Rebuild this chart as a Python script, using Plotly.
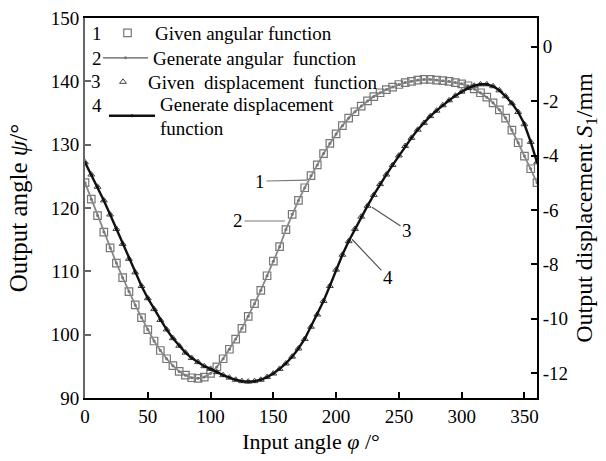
import plotly.graph_objects as go

# ---- data ----
phi = list(range(0, 361, 5))

psi_given = [124.0, 121.4, 118.8, 116.2, 113.7, 111.3, 109.0, 106.8, 104.7, 102.7,
             100.8, 99.0, 97.5, 96.2, 95.1, 94.2, 93.6, 93.2, 93.1, 93.3,
             93.9, 94.9, 96.2, 97.7, 99.3, 101.0, 102.9, 104.9, 107.0, 109.3,
             111.6, 113.9, 116.6, 119.0, 121.2, 123.2, 125.1, 126.8, 128.6, 130.2,
             131.7, 133.0, 134.2, 135.2, 136.1, 136.9, 137.6, 138.2, 138.7, 139.1,
             139.5, 139.8, 140.0, 140.2, 140.3, 140.3, 140.2, 140.1, 140.0, 139.8,
             139.6, 139.3, 138.8, 138.2, 137.5, 136.6, 135.5, 134.2, 132.3, 130.3,
             128.2, 126.2, 124.0]

psi_generated = psi_given

s_given = [-4.25, -4.7, -5.15, -5.65, -6.17, -6.7, -7.25, -7.8, -8.3, -8.8,
           -9.25, -9.65, -10.05, -10.4, -10.72, -11.0, -11.25, -11.45, -11.6, -11.75,
           -11.85, -11.97, -12.08, -12.17, -12.25, -12.3, -12.32, -12.3, -12.25, -12.15,
           -12.02, -11.85, -11.65, -11.4, -11.1, -10.75, -10.3, -9.85, -9.35, -8.8,
           -8.2, -7.65, -7.15, -6.7, -6.25, -5.85, -5.45, -5.05, -4.7, -4.35,
           -4.0, -3.65, -3.35, -3.05, -2.8, -2.55, -2.35, -2.15, -1.97, -1.8,
           -1.65, -1.52, -1.43, -1.38, -1.38, -1.45, -1.6, -1.82, -2.08, -2.4,
           -2.85, -3.5, -4.25]

s_generated = s_given

x_ticks = [0, 50, 100, 150, 200, 250, 300, 350]
y_ticks = [90, 100, 110, 120, 130, 140, 150]
y2_ticks = [0, -2, -4, -6, -8, -10, -12]
y2_ticktext = ["0", "-2", "-4", "-6", "-8", "-10", "-12"]

series_names = ["Given angular function",
                "Generate angular  function",
                "Given  displacement  function",
                "Generate displacement<br>function"]
series_numbers = ["1", "2", "3", "4"]

FONT = "Liberation Serif"

L, R, T, B = 85, 69, 18, 63
W, H = 606, 461
pw, ph = W - L - R, H - T - B

def px(xp):
    return (xp - L) / pw

def py(yp):
    return (H - B - yp) / ph

fig = go.Figure()
fig.add_trace(go.Scatter(x=phi, y=psi_given, mode="markers", name=series_names[0], legend="legend",
                         marker=dict(symbol="square-open", size=7.5, color="#777777",
                                     line=dict(width=1.2))))
fig.add_trace(go.Scatter(x=phi, y=psi_generated, mode="lines+markers", name=series_names[1], legend="legend2",
                         line=dict(color="#888888", width=1.8),
                         marker=dict(symbol="circle", size=3, color="#777777")))
fig.add_trace(go.Scatter(x=phi, y=s_given, mode="markers", name=series_names[2], yaxis="y2", legend="legend3",
                         marker=dict(symbol="triangle-up-open", size=6, color="#444444",
                                     line=dict(width=1))))
fig.add_trace(go.Scatter(x=phi, y=s_generated, mode="lines+markers", name=series_names[3], yaxis="y2", legend="legend4",
                         line=dict(color="#111111", width=2.4),
                         marker=dict(symbol="circle", size=3, color="#111111")))

annotations = []
# legend numbers
for num, (xx, yy) in zip(series_numbers, [(97, 33), (97, 58), (96, 82), (97, 105)]):
    annotations.append(dict(x=px(xx), y=py(yy), xref="paper", yref="paper", text=num,
                            xanchor="center", yanchor="middle",
                            showarrow=False, font=dict(family=FONT, size=19, color="black")))

# curve labels with leader lines
annotations += [
    dict(x=176.8, y=124.4, xref="x", yref="y", text="1", showarrow=True, arrowhead=0,
         arrowwidth=1.2, arrowcolor="#777777", ax=-47, ay=1, font=dict(family=FONT, size=19)),
    dict(x=159.3, y=117.95, xref="x", yref="y", text="2", showarrow=True, arrowhead=0,
         arrowwidth=1.2, arrowcolor="#777777", ax=-47, ay=0, font=dict(family=FONT, size=19)),
    dict(x=228.6, y=-5.9, xref="x", yref="y2", text="3", showarrow=True, arrowhead=0,
         arrowwidth=1.2, arrowcolor="#555555", ax=35, ay=23, font=dict(family=FONT, size=19)),
    dict(x=212.6, y=-7.08, xref="x", yref="y2", text="4", showarrow=True, arrowhead=0,
         arrowwidth=1.2, arrowcolor="#555555", ax=36, ay=38, font=dict(family=FONT, size=19)),
]

def legend_box(xleft, ycenter, iw):
    return dict(x=px(xleft), y=py(ycenter), xanchor="left", yanchor="middle",
                bgcolor="rgba(0,0,0,0)", borderwidth=0,
                font=dict(family=FONT, size=19, color="black"), itemwidth=iw)

fig.update_layout(
    width=W, height=H,
    margin=dict(l=L, r=R, t=T, b=B, autoexpand=False),
    paper_bgcolor="white", plot_bgcolor="white",
    font=dict(family=FONT, size=19, color="black"),
    showlegend=True,
    legend=legend_box(100, 33, 45),
    legend2=legend_box(98, 58, 45),
    legend3=legend_box(98, 82, 40),
    legend4=legend_box(104, 116, 46),
    xaxis=dict(range=[0, 360], tickvals=x_ticks, ticks="inside", ticklen=6, tickwidth=1.5,
               tickcolor="black", showline=True, linecolor="black", linewidth=2,
               mirror=True, showgrid=False, zeroline=False,
               tickfont=dict(family=FONT, size=19),
               title=dict(text="Input angle <i>φ</i> /°", font=dict(family=FONT, size=22), standoff=8)),
    yaxis=dict(range=[90, 150], tickvals=y_ticks, ticks="inside", ticklen=6, tickwidth=1.5,
               tickcolor="#666666", showline=True, linecolor="#666666", linewidth=2,
               showgrid=False, zeroline=False, tickfont=dict(family=FONT, size=19),
               title=dict(text="Output angle <i>ψ</i>/°", font=dict(family=FONT, size=25), standoff=16)),
    yaxis2=dict(range=[-12.92, 1.06], overlaying="y", side="right", tickvals=y2_ticks,
                ticktext=y2_ticktext, ticks="inside", ticklen=6, tickwidth=1.5, tickcolor="black",
                showline=True, linecolor="black", linewidth=2, showgrid=False, zeroline=False,
                tickfont=dict(family=FONT, size=19),
                title=dict(text="Output displacement <i>S</i><sub>1</sub>/mm",
                           font=dict(family=FONT, size=24), standoff=8)),
    annotations=annotations,
)

fig.write_html("out.html", config={"displayModeBar": False},
               post_script="document.body.style.margin='0';")
